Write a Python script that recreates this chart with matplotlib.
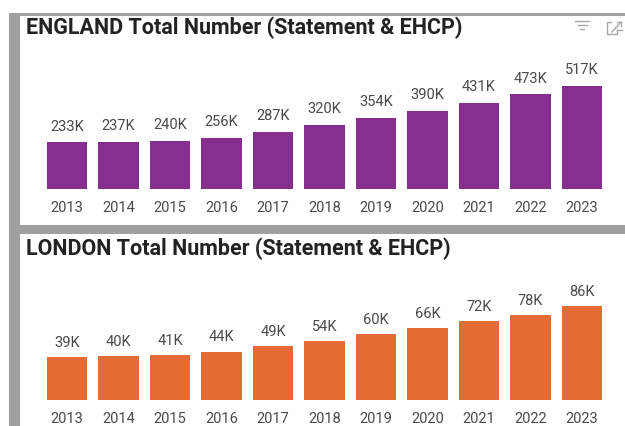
import matplotlib
matplotlib.use('Agg')
import matplotlib.pyplot as plt
from matplotlib.patches import Rectangle
from matplotlib.lines import Line2D

years = [2013, 2014, 2015, 2016, 2017, 2018, 2019, 2020, 2021, 2022, 2023]
england = [233, 237, 240, 256, 287, 320, 354, 390, 431, 473, 517]
london = [39, 40, 41, 44, 49, 54, 60, 66, 72, 78, 86]

W, H = 625, 427
plt.rcParams['font.family'] = ['Roboto', 'DejaVu Sans']

fig = plt.figure(figsize=(W / 100, H / 100), dpi=100, facecolor='white')

def box(x0, y0, x1, y1, color):
	# zorder below the axes, otherwise the cards hide the bars
	fig.add_artist(Rectangle((x0 / W, 1 - y1 / H), (x1 - x0) / W, (y1 - y0) / H,
		transform=fig.transFigure, facecolor=color, edgecolor='none', zorder=-1))

def seg(xs, ys, color='#a8a8a8', lw=1.0):
	fig.add_artist(Line2D([x / W for x in xs], [1 - y / H for y in ys],
		transform=fig.transFigure, color=color, lw=lw))

# grey report background, white visual cards
box(9, 14, W, H, '#a0a0a0')
box(20, 17, W, 226, 'white')
box(20, 235, W, H, 'white')

def panel(values, color, title, title_y, base_y, px_per_k, lab_pad):
	ax = fig.add_axes([41.25 / W, 1 - base_y / H, 566.5 / W, 135 / H])
	ax.set_facecolor('none')
	bars = ax.bar(range(len(years)), values, width=0.79, color=color)
	ax.set_xlim(-0.5, 10.5)
	ax.set_ylim(0, 135 / px_per_k)
	ax.set_xticks(range(len(years)))
	ax.set_xticklabels(years, fontsize=10.5, color='#4a4a4a')
	ax.tick_params(axis='x', length=0, pad=8)
	ax.set_yticks([])
	for s in ax.spines.values():
		s.set_visible(False)
	ax.bar_label(bars, labels=[f'{v}K' for v in values], padding=lab_pad,
		fontsize=10.5, color='#4a4a4a')
	fig.text(26 / W, 1 - title_y / H, title, fontsize=15.5, fontweight='bold',
		color='#222222', va='center', ha='left')

panel(england, '#862f8f', 'ENGLAND Total Number (Statement & EHCP)', 27.5, 190, 0.2, 7)
panel(london, '#e56b35', 'LONDON Total Number (Statement & EHCP)', 248.5, 400.5, 1.085, 6)

# filter icon
seg([575, 589], [22, 22])
seg([577.5, 586.5], [26, 26])
seg([580, 584], [30, 30])
# focus mode icon
seg([611, 606.5, 606.5, 617, 617, 622], [23, 23, 35, 35, 31, 31])
seg([612, 621], [33, 23])
seg([617, 621, 621], [23, 23, 27])

fig.savefig('out.png', dpi=100)
